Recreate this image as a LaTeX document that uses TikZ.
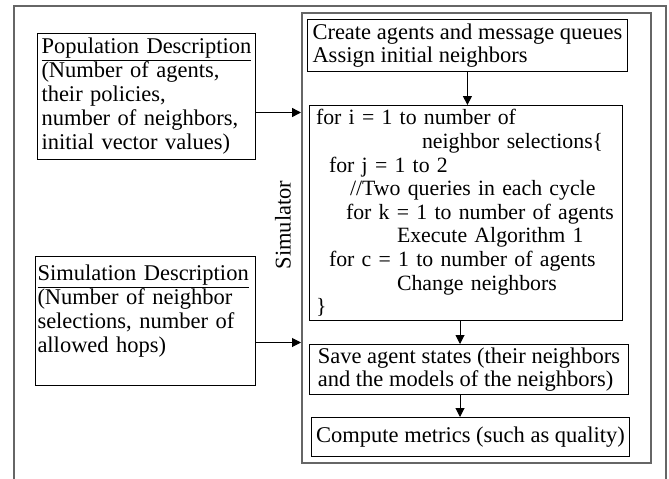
\documentclass[tikz,border=0pt]{standalone}
\usepackage{fontspec}
\setmainfont{Liberation Serif}
\usepackage{tikz}
\usetikzlibrary{shapes, arrows.meta, positioning}

\begin{document}
\begin{tikzpicture}[x=1pt, y=-1pt,
            box/.style={draw, rectangle, line width=1pt, anchor=north west, align=left, inner xsep=5pt, inner ysep=2pt, font=\fontsize{22.5}{24}\selectfont},
            frame/.style={draw=black!60, line width=1.6pt},
            arr/.style={-{Triangle[length=9pt, width=9pt]}, line width=1pt}]
            \useasboundingbox (0,0) rectangle (669,479);
            % outer frame, open at the bottom
            \draw[frame] (14,479) -- (14,6) -- (666,6) -- (666,479);
            \node[frame, anchor=north west, minimum width=349pt, minimum height=450pt, inner sep=0pt] (sim) at (301,12) {};
            \node[rotate=90, font=\fontsize{22.5}{24}\selectfont] (simlabel) at (283,225) {Simulator};

            \node[box, inner xsep=4pt, text width=210pt, minimum height=126pt] (pop) at (37,33) {\underline{Population Description}\\(Number of agents,\\their policies,\\number of neighbors,\\initial vector values)};
            \node[box, inner xsep=2pt, text width=216pt, minimum height=129pt] (simdesc) at (35,256) {\underline{Simulation Description}\\(Number of neighbor\\selections, number of\\allowed hops)\\ \mbox{}};

            \node[box, minimum width=319pt, minimum height=52pt, font=\fontsize{22.5}{23}\selectfont] (create) at (307,19) {Create agents and message queues\\Assign initial neighbors};
            \node[box, inner xsep=6.5pt, text width=300pt, minimum height=215pt, font=\fontsize{21.8}{23.6}\selectfont] (loop) at (309,105) {for i = 1 to number of\\
                \hspace*{106pt}neighbor selections\{\\
                \hspace*{13pt}for j = 1 to 2\\
                \hspace*{34pt}//Two queries in each cycle\\
                \mbox{\hspace*{30pt}for k = 1 to number of agents}\\
                \hspace*{81pt}Execute Algorithm 1\\
                \mbox{\hspace*{13pt}for c = 1 to number of agents}\\
                \hspace*{81pt}Change neighbors\\
                \}};
            \node[box, minimum width=319pt, minimum height=50pt, font=\fontsize{22.5}{23}\selectfont] (save) at (309,344) {Save agent states (their neighbors\\and the models of the neighbors)};
            \node[box, inner xsep=2pt, minimum width=318pt, minimum height=39pt] (metrics) at (311,417) {Compute metrics (such as quality)};

            \coordinate (axis) at (460,0);
            \draw[arr] (create.south) -- (create.south |- loop.north);
            \draw[arr] (axis |- loop.south) -- (axis |- save.north);
            \draw[arr] (axis |- save.south) -- (axis |- metrics.north);
            \draw[arr, line width=1.5pt] ([yshift=-16pt]pop.east) -- ([yshift=-16pt]pop.east -| sim.west);
            \draw[arr] ([yshift=-21.5pt]simdesc.east) -- ([yshift=-21.5pt]simdesc.east -| sim.west);
        \end{tikzpicture}
\end{document}
